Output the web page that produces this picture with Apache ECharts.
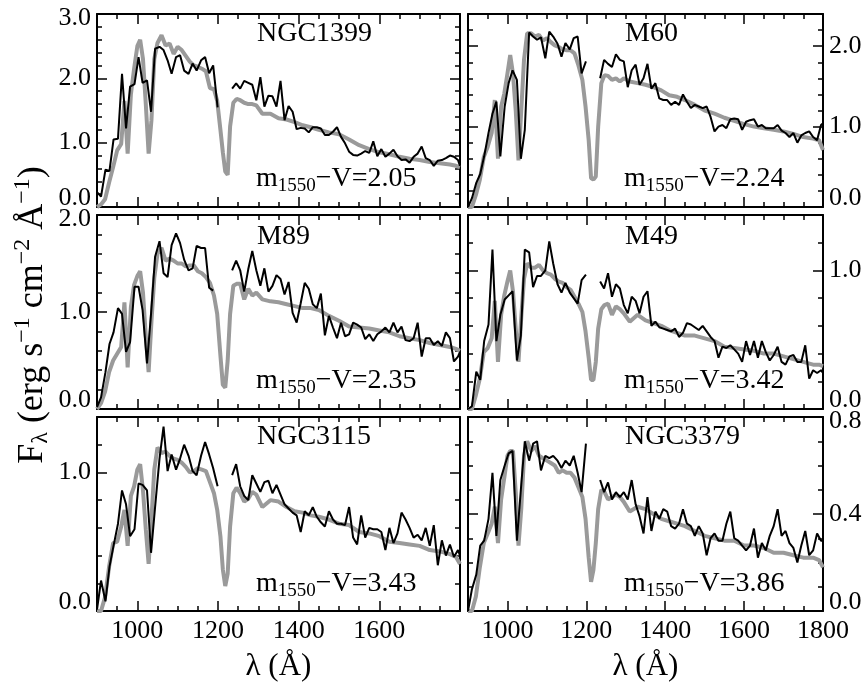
<!DOCTYPE html>
<html>
<head>
<meta charset="utf-8">
<script src="https://cdn.jsdelivr.net/npm/echarts@6.0.0/dist/echarts.min.js"></script>
<style>
html, body { margin: 0; padding: 0; background: #fff; }
#chart { width: 868px; height: 682px; }
</style>
</head>
<body>
<div id="chart"></div>
<script>
// wavelength grids (Angstrom)
var obsWave = [900,910,921,931,941,952,962,972,982,993,1003,1013,1024,1034,1044,1055,1065,1075,1085,1096,
  1106,1116,1127,1137,1147,1158,1168,1178,1188,1199,
  1215,
  1235,1245,1255,1265,1275,1285,1295,1305,1315,1325,1335,1345,1355,1365,1375,1385,1395,1405,1415,1425,
  1435,1445,1455,1465,1475,1485,1495,1505,1515,1525,1535,1545,1555,1565,1575,1585,1595,1605,1615,1625,
  1635,1645,1655,1665,1675,1685,1695,1705,1715,1725,1735,1745,1755,1765,1775,1785,1795,1800];
var modelWave = [900,910,920,930,940,950,960,968,976,984,992,1000,1007,1014,1021,1028,1035,1042,
  1050,1060,1070,1080,1090,1100,1110,1120,1130,1140,1150,1160,1170,1180,1190,
  1198,1206,1212,1218,1224,1230,1238,1246,1255,1265,1275,1285,1295,
  1310,1330,1350,1370,1390,1410,1430,1450,1475,1500,1525,1550,1575,1600,1625,1650,1675,1700,1725,1750,1775,1790,1800];

// observed spectra (black), null = gap around Ly-alpha
var ngc1399Obs = [0.23,0.16,0.58,0.56,1.05,1.06,2.07,1.22,1.87,1.91,2.33,1.93,1.97,1.48,2.46,2.49,2.44,2.28,2.07,2.33,
  2.36,2.12,2.07,2.23,2.12,2.28,2.33,2.08,2.20,1.55,
  null,
  1.84,1.92,1.84,1.96,1.93,1.90,1.66,2.02,1.56,1.73,1.72,1.56,1.96,1.35,1.57,1.48,1.21,1.23,1.22,1.16,
  1.24,1.24,1.22,1.12,1.12,1.17,1.24,1.09,0.99,0.86,0.81,0.80,0.83,0.87,0.84,1.02,0.79,0.90,0.78,0.83,
  0.89,0.79,0.73,0.74,0.69,0.78,0.83,0.94,0.76,0.73,0.64,0.72,0.73,0.76,0.80,0.78,0.73,0.64];
var m60Obs = [0.00,0.11,0.30,0.41,0.63,0.92,1.16,1.31,0.63,1.25,1.54,1.70,1.58,0.60,0.96,2.17,2.12,2.08,2.11,1.85,
  2.18,2.12,2.03,1.87,2.04,1.96,2.10,2.12,1.66,1.81,
  null,
  1.60,1.83,1.78,1.74,1.90,1.83,1.81,1.49,1.70,1.77,1.52,1.60,1.78,1.47,1.54,1.35,1.33,1.33,1.27,1.31,
  1.27,1.40,1.31,1.23,1.27,1.25,1.23,1.25,1.12,0.94,1.00,1.02,0.98,1.09,1.10,1.09,0.96,1.06,1.08,1.09,
  1.00,1.02,0.98,0.98,0.98,1.02,0.95,0.92,0.87,0.92,0.80,0.89,0.92,0.94,0.87,0.83,1.02,1.04];
var m89Obs = [0.02,0.12,0.38,0.67,0.79,1.04,0.98,0.59,0.69,1.26,1.26,1.02,0.47,0.98,1.57,1.73,1.40,1.36,1.69,1.81,
  1.71,1.54,1.43,1.45,1.68,1.66,1.66,1.25,1.22,null,
  null,
  1.43,1.53,1.43,1.21,1.44,1.63,1.43,1.27,1.45,1.21,1.27,1.38,1.34,1.18,1.31,0.99,0.89,1.09,1.30,1.24,
  1.08,1.04,1.19,0.76,0.96,0.84,0.73,0.89,0.75,0.77,0.89,0.87,0.84,0.72,0.77,0.70,0.77,0.80,0.84,0.79,
  0.89,0.79,0.85,0.71,0.70,0.73,0.89,0.54,0.73,0.73,0.66,0.70,0.65,0.79,0.73,0.49,0.54,0.59];
var m49Obs = [0.00,0.02,0.27,0.21,0.49,0.61,1.15,0.49,0.68,0.79,0.82,0.85,0.35,0.53,1.15,1.13,0.88,0.96,0.96,1.00,
  1.21,1.05,0.90,0.84,0.91,0.84,0.80,0.76,0.93,0.97,
  null,
  0.92,0.87,0.98,0.81,0.90,0.87,0.75,0.69,0.81,0.78,0.69,0.81,0.85,0.60,0.63,0.59,0.58,0.57,0.56,0.58,
  0.52,0.55,0.62,0.61,0.59,0.57,0.60,0.56,0.52,0.49,0.37,0.45,0.44,0.46,0.43,0.40,0.34,0.49,0.39,0.49,
  0.37,0.49,0.41,0.35,0.39,0.45,0.34,0.32,0.38,0.39,0.34,0.34,0.46,0.22,0.28,0.26,0.28,0.26];
var ngc3115Obs = [0.01,0.22,0.07,0.32,0.47,0.63,0.87,0.77,0.54,0.59,0.92,0.91,0.87,0.42,0.75,1.10,1.33,1.01,1.13,1.02,
  1.10,1.20,1.12,1.01,0.98,1.12,1.22,1.13,1.03,0.90,
  null,
  0.98,1.06,0.90,0.83,0.80,0.98,0.92,0.86,0.93,0.94,0.85,0.91,0.84,0.77,0.74,0.71,0.69,0.57,0.72,0.69,
  0.75,0.68,0.64,0.61,0.72,0.66,0.63,0.63,0.62,0.75,0.53,0.48,0.69,0.53,0.60,0.59,0.59,0.57,0.44,0.60,
  0.49,0.56,0.71,0.66,0.60,0.53,0.55,0.51,0.60,0.47,0.62,0.33,0.51,0.40,0.48,0.39,0.44,0.40];
var ngc3379Obs = [0.00,0.09,0.15,0.27,0.29,0.38,0.57,0.31,0.54,0.60,0.65,0.66,0.29,0.50,0.70,0.62,0.69,0.70,0.58,0.64,
  0.63,0.64,0.62,0.59,0.62,0.60,0.64,0.57,0.49,0.69,
  null,
  0.54,0.49,0.53,0.46,0.49,0.47,0.49,0.46,0.54,0.44,0.39,0.32,0.47,0.33,0.41,0.38,0.42,0.41,0.35,0.34,
  0.36,0.42,0.36,0.35,0.31,0.35,0.32,0.23,0.30,0.32,0.29,0.29,0.36,0.41,0.30,0.29,0.27,0.25,0.27,0.34,
  0.22,0.28,0.25,0.31,0.35,0.42,0.31,0.33,0.28,0.26,0.20,0.27,0.33,0.23,0.25,0.32,0.29,0.29];

// model spectra (grey)
var ngc1399Model = [0.00,0.04,0.12,0.38,0.62,0.88,0.98,1.65,0.83,1.75,2.15,2.50,2.60,2.30,1.60,0.83,1.35,2.30,
  2.55,2.67,2.51,2.54,2.38,2.49,2.44,2.35,2.26,2.20,2.18,2.15,2.11,1.85,1.83,
  1.65,1.20,0.85,0.55,0.50,1.25,1.62,1.68,1.66,1.62,1.60,1.60,1.58,
  1.45,1.45,1.38,1.36,1.32,1.27,1.24,1.20,1.16,1.13,1.05,0.96,0.90,0.85,0.82,0.78,0.75,0.73,0.70,0.68,0.66,0.64,0.62];
var m60Model = [0.00,0.00,0.15,0.34,0.62,0.75,0.92,1.33,0.60,1.25,1.41,1.66,1.89,1.66,1.20,0.58,1.20,1.83,
  2.16,2.16,2.12,2.14,2.07,2.10,2.05,2.01,1.99,1.96,1.95,1.95,1.91,1.76,1.58,
  1.25,0.83,0.36,0.34,0.38,1.00,1.54,1.64,1.63,1.58,1.60,1.56,1.60,
  1.56,1.54,1.52,1.49,1.45,1.39,1.37,1.33,1.27,1.20,1.16,1.11,1.07,1.03,1.00,0.98,0.96,0.94,0.91,0.87,0.85,0.83,0.71];
var m89Model = [0.00,0.06,0.18,0.38,0.50,0.57,0.64,1.10,0.43,1.05,1.28,1.37,1.42,1.20,0.75,0.38,0.90,1.35,
  1.60,1.66,1.53,1.55,1.53,1.50,1.50,1.47,1.48,1.48,1.42,1.40,1.36,1.30,1.17,
  0.98,0.55,0.25,0.22,0.50,0.98,1.27,1.29,1.29,1.13,1.24,1.17,1.20,
  1.13,1.11,1.10,1.08,1.06,1.04,1.04,1.02,0.96,0.91,0.85,0.84,0.83,0.81,0.79,0.75,0.73,0.71,0.68,0.66,0.64,0.62,0.60];
var m49Model = [0.00,0.00,0.10,0.22,0.41,0.44,0.51,0.78,0.34,0.68,0.82,0.92,1.00,0.85,0.58,0.34,0.66,0.94,
  1.05,1.02,1.02,1.04,1.00,0.98,0.97,0.94,0.92,0.91,0.88,0.86,0.81,0.76,0.70,
  0.56,0.37,0.21,0.21,0.34,0.58,0.72,0.75,0.76,0.68,0.74,0.72,0.69,
  0.63,0.68,0.64,0.62,0.60,0.57,0.55,0.53,0.53,0.51,0.49,0.45,0.44,0.43,0.42,0.40,0.40,0.38,0.36,0.34,0.32,0.32,0.31];
var ngc3115Model = [0.00,0.00,0.10,0.32,0.49,0.50,0.61,0.73,0.47,0.83,0.90,1.02,1.06,0.87,0.59,0.34,0.66,1.02,
  1.18,1.14,1.15,1.12,1.10,1.09,1.07,1.04,1.00,1.01,1.03,1.02,1.01,0.93,0.85,
  0.73,0.54,0.30,0.18,0.27,0.61,0.85,0.89,0.85,0.79,0.81,0.86,0.84,
  0.75,0.80,0.79,0.75,0.72,0.71,0.69,0.68,0.66,0.63,0.62,0.57,0.56,0.54,0.50,0.49,0.48,0.47,0.44,0.43,0.41,0.39,0.34];
var ngc3379Model = [0.00,0.00,0.06,0.18,0.28,0.32,0.36,0.43,0.28,0.46,0.55,0.64,0.66,0.66,0.49,0.27,0.42,0.64,
  0.70,0.66,0.68,0.64,0.63,0.62,0.61,0.60,0.57,0.58,0.57,0.57,0.55,0.51,0.47,
  0.38,0.22,0.12,0.17,0.28,0.42,0.50,0.49,0.46,0.47,0.48,0.47,0.45,
  0.41,0.43,0.42,0.40,0.38,0.37,0.36,0.35,0.33,0.31,0.30,0.29,0.29,0.27,0.27,0.26,0.24,0.24,0.23,0.22,0.22,0.21,0.18];

var galaxies = ['NGC1399', 'M60', 'M89', 'M49', 'NGC3115', 'NGC3379'];
var colours = ['2.05', '2.24', '2.35', '3.42', '3.43', '3.86'];
var obsList = [ngc1399Obs, m60Obs, m89Obs, m49Obs, ngc3115Obs, ngc3379Obs];
var modelList = [ngc1399Model, m60Model, m89Model, m49Model, ngc3115Model, ngc3379Model];

// axis ticks
var yMax = [3.0, 2.4, 2.0, 1.4, 1.4, 0.8];
var yMajor = [[0, 1, 2, 3], [0, 1, 2], [0, 1, 2], [0, 1], [0, 1], [0, 0.4, 0.8]];
var yMinorStep = [0.2, 0.2, 0.2, 0.2, 0.2, 0.1];
var xMajor = [1000, 1200, 1400, 1600, 1800];

var font = 'Liberation Serif';
var colLeft = [97, 468], colWidth = [363, 355];
var rowTop = [14, 215, 417], rowHeight = [193, 194, 194];
var titleX = [257, 625];
var titleY = [34, 237, 437];
var noteY = [179, 381, 584];

var grids = [], xAxes = [], yAxes = [], series = [], graphics = [];

function tickAxis(extra) {
    var base = {
        type: 'value',
        axisLine: {show: false, onZero: false, lineStyle: {color: '#000', width: 2}},
        axisTick: {inside: true, length: 5, lineStyle: {color: '#000', width: 1.5}},
        axisLabel: {show: false},
        splitLine: {show: false}
    };
    return Object.assign(base, extra);
}

galaxies.forEach(function (name, g) {
    var col = g % 2, row = Math.floor(g / 2);
    grids.push({left: colLeft[col], top: rowTop[row], width: colWidth[col], height: rowHeight[row],
        outerBoundsMode: 'none'});

    ['bottom', 'top'].forEach(function (pos) {
        xAxes.push(tickAxis({gridIndex: g, position: pos, min: 900, max: 1800, interval: 50,
            axisLine: {show: true, onZero: false, lineStyle: {color: '#000', width: 2}}}));
        var lab = pos === 'bottom' && row === 2;
        xAxes.push(tickAxis({gridIndex: g, position: pos, min: 900, max: 1800,
            axisTick: {inside: true, length: 10, customValues: xMajor, lineStyle: {color: '#000', width: 1.5}},
            axisLabel: {show: lab, customValues: col === 0 ? xMajor.slice(0, 4) : xMajor,
                margin: 7, fontFamily: font, fontSize: 26, color: '#000',
                formatter: function (v) { return String(v); }},
            name: lab ? 'λ (Å)' : '', nameLocation: 'middle', nameGap: 40,
            nameTextStyle: {fontFamily: font, fontSize: 31, color: '#000'}}));
    });

    var top = yMax[g], majors = yMajor[g];
    ['left', 'right'].forEach(function (pos) {
        yAxes.push(tickAxis({gridIndex: g, position: pos, min: 0, max: top, interval: yMinorStep[g],
            axisLine: {show: true, onZero: false, lineStyle: {color: '#000', width: 2}}}));
        var lab = (pos === 'left') === (col === 0);
        yAxes.push(tickAxis({gridIndex: g, position: pos, min: 0, max: top,
            axisTick: {inside: true, length: 10, customValues: majors, lineStyle: {color: '#000', width: 1.5}},
            axisLabel: {show: lab, customValues: majors, margin: 6, fontFamily: font, fontSize: 26, color: '#000',
                formatter: function (v) {
                    var s = v.toFixed(1);
                    if (v === 0) return '{lo|' + s + '}';
                    if (Math.abs(v - top) < 1e-9) return '{hi|' + s + '}';
                    return s;
                },
                rich: {
                    lo: {fontFamily: font, fontSize: 26, color: '#000', padding: [0, 0, 18, 0]},
                    hi: {fontFamily: font, fontSize: 26, color: '#000', padding: [8, 0, 0, 0]}
                }}}));
    });

    series.push({
        type: 'line', xAxisIndex: 4 * g, yAxisIndex: 4 * g,
        data: modelWave.map(function (w, i) { return [w, modelList[g][i]]; }),
        showSymbol: false, lineStyle: {color: '#9a9a9a', width: 4}, z: 2
    });
    series.push({
        type: 'line', xAxisIndex: 4 * g, yAxisIndex: 4 * g,
        data: obsWave.map(function (w, i) { return [w, obsList[g][i]]; }),
        showSymbol: false, connectNulls: false, lineStyle: {color: '#000', width: 2}, z: 3
    });

    graphics.push({
        type: 'text', x: titleX[col], y: titleY[row],
        style: {text: name, font: '28px "' + font + '"', fill: '#000',
            align: 'left', textAlign: 'left', verticalAlign: 'middle', textVerticalAlign: 'middle'}
    });
    graphics.push({
        type: 'text', x: titleX[col] - 1, y: noteY[row],
        style: {text: '{a|m}{b|1550}{a|\u2212V=' + colours[g] + '}', fill: '#000',
            align: 'left', textAlign: 'left', verticalAlign: 'middle', textVerticalAlign: 'middle',
            rich: {
                a: {fontFamily: font, fontSize: 28, fill: '#000'},
                b: {fontFamily: font, fontSize: 19, fill: '#000', padding: [15, 0, 0, 0]}
            }}
    });
});

graphics.push({
    type: 'text', x: 33, y: 315, rotation: Math.PI / 2,
    style: {text: '{a|F}{s|λ}{a| (erg s}{p|\u22121}{a| cm}{p|\u22122}{a| Å}{p|\u22121}{a|)}', fill: '#000',
        align: 'center', textAlign: 'center', verticalAlign: 'middle', textVerticalAlign: 'middle',
        rich: {
            a: {fontFamily: font, fontSize: 36, fill: '#000'},
            s: {fontFamily: font, fontSize: 24, fill: '#000', padding: [16, 0, 0, 0]},
            p: {fontFamily: font, fontSize: 24, fill: '#000', padding: [0, 0, 20, 0]}
        }}
});

var myChart = echarts.init(document.getElementById('chart'));
myChart.setOption({
    animation: false,
    backgroundColor: '#fff',
    grid: grids,
    xAxis: xAxes,
    yAxis: yAxes,
    series: series,
    graphic: {elements: graphics}
});
</script>
</body>
</html>
